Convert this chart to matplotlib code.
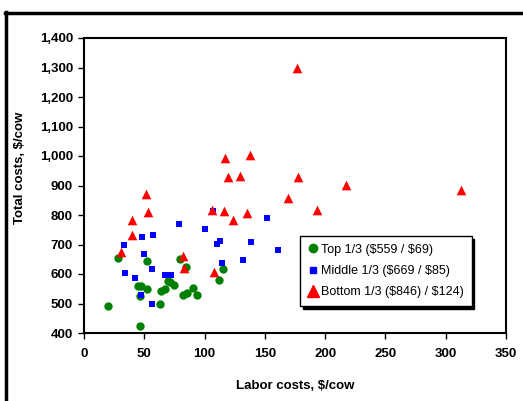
import matplotlib
matplotlib.use("Agg")
import matplotlib.pyplot as plt
from matplotlib.lines import Line2D
from matplotlib.ticker import FuncFormatter

plt.rcParams['font.family'] = ['Liberation Sans', 'DejaVu Sans']

# labor costs ($/cow) and total costs ($/cow) per herd, by third
top_labor = [28, 19.6, 46.2, 52, 45, 47.3, 52, 46.7, 63, 63.9, 67.4,
             69.4, 71.3, 74.6, 79.4, 84.9, 81.9, 85.2, 90.7, 93.7, 115.6, 112.2]
top_total = [655, 492, 425, 644, 561, 558, 549, 525, 497, 542, 549,
             575, 573, 563, 650, 625, 530, 536, 554, 530, 617, 580]

mid_labor = [33.2, 34.3, 42, 47.8, 49.8, 57.2, 56.4, 47, 56.4, 67.4,
             72.4, 78.8, 100.1, 110.3, 113, 107.2, 114.7, 131.9, 138.5, 151.5, 160.9]
mid_total = [698, 602, 588, 724, 667, 731, 618, 530, 500, 595,
             595, 770, 751, 702, 712, 815, 637, 648, 708, 789, 682]

bot_labor = [30.9, 39.6, 39.6, 51.7, 53.3, 82.4, 83.2, 106.4, 108.1, 115.9, 123.6,
             135.5, 169, 116.9, 137.4, 119.4, 129.6, 176.4, 177.8, 217, 312.9, 193.3]
bot_total = [674, 733, 784, 871, 809, 662, 619, 817, 606, 814, 784,
             807, 856, 994, 1004, 929, 933, 1298, 929, 902, 885, 818]

labels = [r"Top 1/3 (\$559 / \$69)", r"Middle 1/3 (\$669 / \$85)", r"Bottom 1/3 (\$846) / \$124)"]

fig = plt.figure(figsize=(5.23, 4.01), dpi=100)
ax = fig.add_axes([84 / 523, 1 - 333 / 401, 422 / 523, 295 / 401])

ax.scatter(top_labor, top_total, s=36, marker='o', color='#008000', zorder=3, linewidths=0)
ax.scatter(mid_labor, mid_total, s=22, marker='s', color='#0000FF', zorder=3, linewidths=0)
ax.scatter(bot_labor, bot_total, s=48, marker='^', color='#FF0000', zorder=4, linewidths=0)

ax.set_xlim(0, 350)
ax.set_ylim(400, 1400)
ax.set_xticks(range(0, 351, 50))
ax.set_yticks(range(400, 1401, 100))
ax.yaxis.set_major_formatter(FuncFormatter(lambda v, p: f"{int(v):,}"))

for s in ax.spines.values():
    s.set_linewidth(1.5)
ax.tick_params(direction='out', length=4, width=1, labelsize=9.5)
ax.tick_params(axis='x', pad=7)
ax.tick_params(axis='y', pad=4)
for lab in ax.get_xticklabels() + ax.get_yticklabels():
    lab.set_fontweight('bold')

ax.set_xlabel(r"Labor costs, \$/cow", fontsize=9.5, fontweight='bold')
ax.set_ylabel(r"Total costs, \$/cow", fontsize=9.5, fontweight='bold')
ax.xaxis.set_label_coords(0.5, -47 / 295)
ax.yaxis.set_label_coords(-58 / 422, 0.56)

handles = [
    Line2D([], [], marker='o', color='#008000', linestyle='none', markersize=6),
    Line2D([], [], marker='s', color='#0000FF', linestyle='none', markersize=4.5),
    Line2D([], [], marker='^', color='#FF0000', linestyle='none', markersize=8),
]
leg = ax.legend(handles, labels, loc='lower left', bbox_to_anchor=(216 / 422, 27 / 295),
                fontsize=9, frameon=True, fancybox=False,
                shadow={'color': 'black', 'alpha': 1},
                borderpad=0.6, labelspacing=0.75, handlelength=0.8, handletextpad=0.3,
                borderaxespad=0)
leg.get_frame().set_edgecolor('black')
leg.get_frame().set_linewidth(1)

# outer frame (left and top edges of the original chart border)
fig.add_artist(Line2D([5.5 / 523, 5.5 / 523], [0, 1 - 12 / 401], transform=fig.transFigure,
                      color='black', linewidth=2.5))
fig.add_artist(Line2D([4.5 / 523, 1], [1 - 12.5 / 401, 1 - 12.5 / 401], transform=fig.transFigure,
                      color='black', linewidth=2.5))

fig.savefig("out.png", dpi=100)
